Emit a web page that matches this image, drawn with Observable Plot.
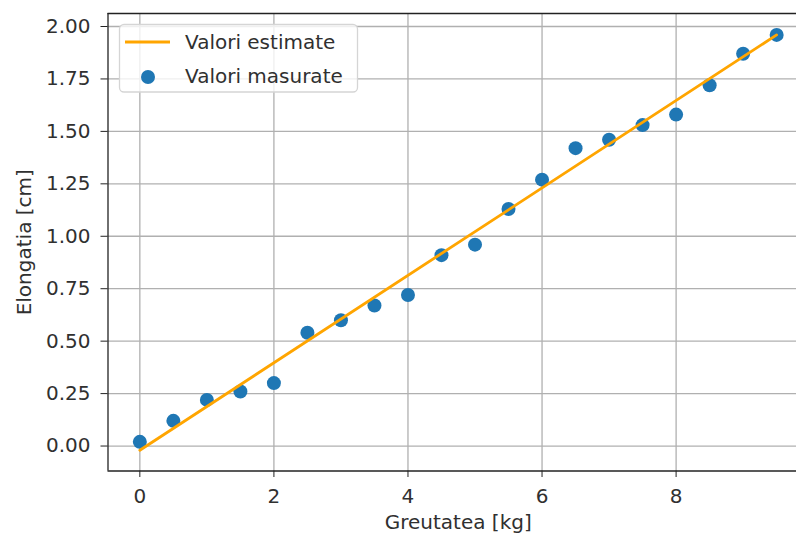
<!DOCTYPE html>
<html>
<head>
<meta charset="utf-8">
<script src="https://cdn.jsdelivr.net/npm/d3@7"></script>
<script src="https://cdn.jsdelivr.net/npm/@observablehq/plot@0.6"></script>
<style>
  html, body { margin: 0; padding: 0; background: #fff; }
  #chart svg { display: block; }
</style>
</head>
<body>
<div id="chart"></div>
<script>
// Measured elongation of a spring versus the applied weight
const greutate = [0, 0.5, 1, 1.5, 2, 2.5, 3, 3.5, 4, 4.5, 5, 5.5, 6, 6.5, 7, 7.5, 8, 8.5, 9, 9.5];
const elongatie = [0.02, 0.12, 0.22, 0.26, 0.30, 0.54, 0.60, 0.67, 0.72, 0.91,
                   0.96, 1.13, 1.27, 1.42, 1.46, 1.53, 1.58, 1.72, 1.87, 1.96];

// Endpoints of the estimated (fitted) line
const estimatX = [0, 9.5];
const estimatY = [-0.02, 1.96];

// Axis ticks
const xTicks = [0, 2, 4, 6, 8];
const yTicks = [0, 0.25, 0.5, 0.75, 1.0, 1.25, 1.5, 1.75, 2.0];

const labels = {
  x: "Greutatea [kg]",
  y: "Elongatia [cm]",
  line: "Valori estimate",
  dots: "Valori masurate"
};

const measured = greutate.map((g, i) => ({x: g, y: elongatie[i]}));
const estimated = estimatX.map((g, i) => ({x: g, y: estimatY[i]}));

const xDomain = [-0.475, 9.975];
const yDomain = [-0.119, 2.062];

const W = 796, H = 538;
const mL = 107.5, mT = 13, mB = 67.5;

const font = "DejaVu Sans, Verdana, sans-serif";
const ink = "#303030";
const blue = "#1f77b4";
const orange = "#ffa500";
const gridColor = "#b0b0b0";

const chart = Plot.plot({
  width: W,
  height: H,
  marginLeft: mL,
  marginTop: mT,
  marginBottom: mB,
  marginRight: 0,
  style: {fontFamily: font, fontSize: "20px", color: ink, background: "#fff"},
  x: {domain: xDomain, range: [mL, 808]},
  y: {domain: yDomain},
  marks: [
    Plot.gridX(xTicks, {stroke: gridColor, strokeOpacity: 1, strokeWidth: 1.3}),
    Plot.gridY(yTicks, {stroke: gridColor, strokeOpacity: 1, strokeWidth: 1.3}),
    // axes spines (left, bottom, top)
    Plot.ruleX([xDomain[0]], {stroke: "#222", strokeWidth: 1.3}),
    Plot.ruleY([yDomain[0]], {stroke: "#222", strokeWidth: 1.3}),
    Plot.ruleY([yDomain[1]], {stroke: "#222", strokeWidth: 1.3}),
    Plot.axisX({
      ticks: xTicks, tickSize: 6.5, tickPadding: 11, tickFormat: d3.format("d"),
      fontSize: 20, stroke: "#222", label: null
    }),
    Plot.axisY({
      ticks: yTicks, tickSize: 7, tickPadding: 10.5, tickFormat: d3.format(".2f"),
      fontSize: 20, stroke: "#222", label: null
    }),
    Plot.dot(measured, {x: "x", y: "y", r: 7, fill: blue, stroke: "none"}),
    Plot.line(estimated, {x: "x", y: "y", stroke: orange, strokeWidth: 2.8}),
    Plot.text([labels.x], {
      x: (xDomain[0] + xDomain[1]) / 2, frameAnchor: "bottom", dy: 52,
      lineAnchor: "middle", fontSize: 20, fill: ink
    }),
    Plot.text([labels.y], {
      frameAnchor: "left", dx: -83.5, rotate: -90,
      lineAnchor: "middle", textAnchor: "middle", fontSize: 20, fill: ink
    })
  ]
});

// Legend box in the upper-left corner of the axes
const svg = d3.select(chart);
const lg = svg.append("g")
  .attr("font-family", font).attr("font-size", 20).attr("text-anchor", "start");
lg.append("rect")
  .attr("x", 119.5).attr("y", 24.5).attr("width", 238).attr("height", 67.5)
  .attr("rx", 4.5).attr("fill", "#fff").attr("fill-opacity", 0.8)
  .attr("stroke", "#d5d5d5").attr("stroke-width", 1.3);
lg.append("line")
  .attr("x1", 125).attr("x2", 170).attr("y1", 42).attr("y2", 42)
  .attr("stroke", orange).attr("stroke-width", 2.8);
lg.append("circle")
  .attr("cx", 148).attr("cy", 77).attr("r", 7).attr("fill", blue);
lg.append("text")
  .attr("x", 185).attr("y", 42).attr("dy", "0.36em").attr("fill", ink)
  .attr("text-anchor", "start")
  .text(labels.line);
lg.append("text")
  .attr("x", 185).attr("y", 75.5).attr("dy", "0.36em").attr("fill", ink)
  .attr("text-anchor", "start")
  .text(labels.dots);

document.getElementById("chart").appendChild(chart);
</script>
</body>
</html>
